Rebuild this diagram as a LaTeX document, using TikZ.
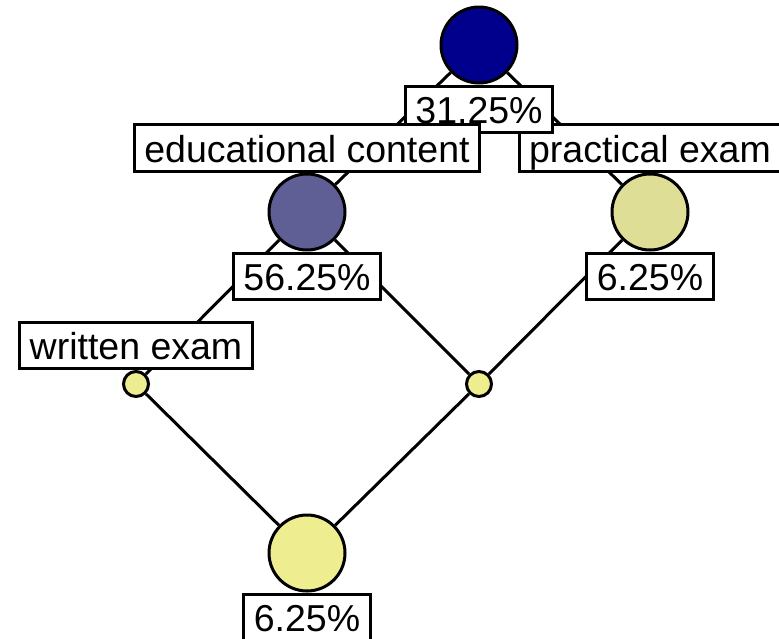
\documentclass[tikz,border=0pt]{standalone}
\usepackage{fontspec}
\setmainfont{Liberation Sans}
\usetikzlibrary{positioning,backgrounds}
\definecolor{rootblue}{RGB}{0,0,140}
\definecolor{slateblue}{RGB}{95,95,150}
\definecolor{khaki}{RGB}{222,222,150}
\definecolor{paleyellow}{RGB}{238,238,145}

\begin{document}
\begin{tikzpicture}[x=1pt,y=-1pt,line width=3pt,
	  big node/.style={circle,draw,minimum size=76pt,inner sep=0pt},
	  small node/.style={circle,draw,minimum size=25pt,inner sep=0pt},
	  tag/.style={draw,fill=white,inner xsep=10pt,inner ysep=0pt,
	    text height=37.5pt,text depth=9pt,font=\fontsize{37.5}{45}\selectfont}]
	\useasboundingbox (0,0) rectangle (779,638);

		\node[big node, fill=rootblue] (root) at (479,45) {};
		\node[big node, fill=slateblue] (edu) at (307,212) {};
		\node[big node, fill=khaki] (prac) at (650,212) {};
		\node[small node, fill=paleyellow] (wr) at (136,384) {};
		\node[small node, fill=paleyellow] (mid) at (479,384) {};
		\node[big node, fill=paleyellow] (goal) at (307,553) {};

		\node[tag] (prac name) [above=0pt of prac] {practical exam};
		\node[tag] (root pct) [below=0pt of root] {31.25\%};
		\node[tag] (edu name) [above=0pt of edu] {educational content};
		\node[tag] (edu pct) [below=0pt of edu] {56.25\%};
		\node[tag] (prac pct) [below=0pt of prac] {6.25\%};
		\node[tag] (wr name) [above=0pt of wr] {written exam};
		\node[tag] (goal pct) [below=0pt of goal] {6.25\%};

	\begin{scope}[on background layer]
	\path[line width=3pt]
		(root) edge (edu)
			edge (prac)
		(edu) edge (wr)
			edge (mid)
		(prac) edge (mid)
		(wr) edge (goal)
		(mid) edge (goal);
	\end{scope}

\end{tikzpicture}
\end{document}
